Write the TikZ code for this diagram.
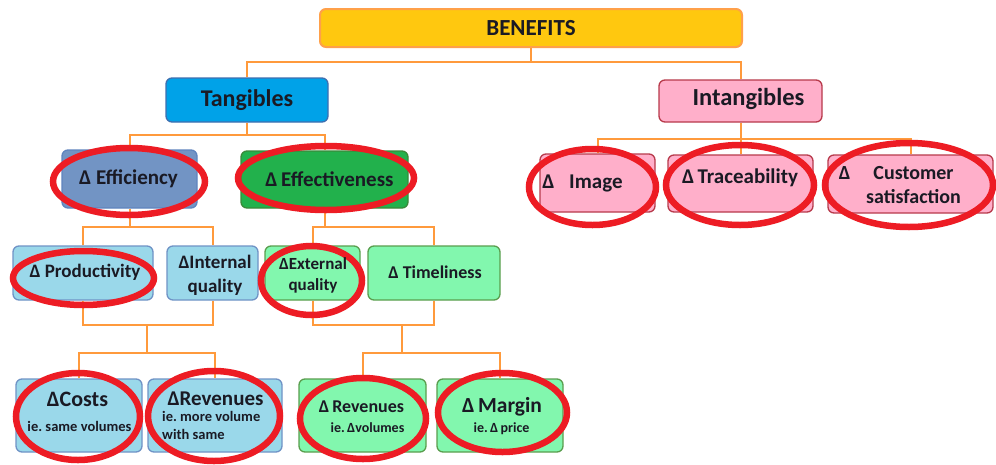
\documentclass[tikz,border=0pt]{standalone}
\usepackage{fontspec}
\setmainfont{Carlito}
\usetikzlibrary{shapes.geometric}
\frenchspacing

\definecolor{ink}{HTML}{1A1A24}
\definecolor{linkorange}{HTML}{FF9A3C}
\definecolor{goldfill}{HTML}{FFC80F}
\definecolor{goldedge}{HTML}{FFA04A}
\definecolor{tanfill}{HTML}{00A2E8}
\definecolor{tanedge}{HTML}{3E6FB0}
\definecolor{efffill}{HTML}{7294C4}
\definecolor{effedge}{HTML}{5F84BE}
\definecolor{evfill}{HTML}{22B14C}
\definecolor{evedge}{HTML}{3A8A3A}
\definecolor{lbfill}{HTML}{9AD8EA}
\definecolor{lbedge}{HTML}{6F93C6}
\definecolor{mintfill}{HTML}{82F7AE}
\definecolor{mintedge}{HTML}{5A9E4E}
\definecolor{pinkfill}{HTML}{FFAFCA}
\definecolor{pinkedge}{HTML}{B83A4B}
\definecolor{ringred}{HTML}{ED1C24}

\begin{document}
\begin{tikzpicture}[x=1pt,y=-1pt,
  sz/.style 2 args={minimum width=#1pt, minimum height=#2pt},
  box/.style={draw, rounded corners=6pt, line width=1.3pt, inner sep=0pt},
  goldbox/.style={box, fill=goldfill, draw=goldedge, line width=2pt},
  tanbox/.style={box, fill=tanfill, draw=tanedge},
  effbox/.style={box, fill=efffill, draw=effedge},
  evbox/.style={box, fill=evfill, draw=evedge},
  lbbox/.style={box, fill=lbfill, draw=lbedge},
  mintbox/.style={box, fill=mintfill, draw=mintedge},
  pinkbox/.style={box, fill=pinkfill, draw=pinkedge},
  conn/.style={draw=linkorange, line width=2pt},
  ring/.style={draw=ringred, line width=6.5pt, ellipse, inner sep=0pt},
  lbl/.style={font=\bfseries\fontsize{#1pt}{#1pt}\selectfont, text=ink, inner sep=0pt},
  lines/.style 2 args={font=\bfseries\fontsize{#1pt}{#2pt}\selectfont, text=ink, inner sep=0pt}
]
\useasboundingbox (0,0) rectangle (996,464);
\fill[white] (0,0) rectangle (996,464);

% ---- boxes ----
\node[goldbox, sz={422}{38}] (ben)  at (531,28)    {};
\node[tanbox,  sz={162}{44}] (tan)  at (247,100)   {};
\node[pinkbox, sz={163}{42}] (intg) at (740.5,101) {};

\node[effbox,  sz={135}{58}] (eff)  at (129.5,179) {};
\node[evbox,   sz={167}{57}] (effv) at (324.5,179.5) {};
\node[pinkbox, sz={115}{58}] (img)  at (597.5,183) {};
\node[pinkbox, sz={145}{57}] (trc)  at (740.5,183.5) {};
\node[pinkbox, sz={165}{58}] (cus)  at (910.5,184) {};

\node[lbbox,   sz={140}{54}] (prod) at (83,273)    {};
\node[lbbox,   sz={91}{54}]  (iq)   at (212.5,273) {};
\node[mintbox, sz={95}{54}]  (eq)   at (312.5,273) {};
\node[mintbox, sz={132}{54}] (tml)  at (434,273)   {};

\node[lbbox,   sz={126}{73}] (cst)  at (79,415.5)  {};
\node[lbbox,   sz={134}{73}] (rev)  at (215,415.5) {};
\node[mintbox, sz={127}{73}] (rev2) at (362.5,415.5) {};
\node[mintbox, sz={126}{73}] (mrg)  at (500,415.5) {};

% ---- junctions of the tree ----
\coordinate (j0) at (531,62);
\coordinate (j1) at (247,135);
\coordinate (j2) at (740.5,139);
\coordinate (j3) at (129.5,227);
\coordinate (j4) at (324.5,227);
\coordinate (j5) at (147,325);
\coordinate (j6) at (147,353);
\coordinate (j7) at (402,325);
\coordinate (j8) at (402,353);

% ---- connectors ----
\draw[conn] (ben.south) -- (j0);
\draw[conn] (tan.north) |- (j0) -| (intg.north);
\draw[conn] (tan.south) -- (j1);
\draw[conn] (eff.north) |- (j1) -| (effv.north);
\draw[conn] (intg.south) -- (j2) -- (trc.north);
\draw[conn] (img.north) |- (j2) -| (cus.north);
\draw[conn] (eff.south) -- (j3);
\draw[conn] (prod.north) |- (j3) -| (iq.north);
\draw[conn] (effv.south) -- (j4);
\draw[conn] (eq.north) |- (j4) -| (tml.north);
\draw[conn] (prod.south) |- (j5) -| (iq.south);
\draw[conn] (j5) -- (j6);
\draw[conn] (cst.north) |- (j6) -| (rev.north);
\draw[conn] (eq.south) |- (j7) -| (tml.south);
\draw[conn] (j7) -- (j8);
\draw[conn] (rev2.north) |- (j8) -| (mrg.north);

% ---- red highlight rings ----
\node[ring, sz={152}{67}] (r-eff)  at (129,181.5) {};
\node[ring, sz={176}{64}] (r-effv) at (326,178)   {};
\node[ring, sz={127}{76}] (r-img)  at (592.5,187) {};
\node[ring, sz={148}{80}] (r-trc)  at (740,185)   {};
\node[ring, sz={168}{84}] (r-cus)  at (909,185)   {};
\node[ring, sz={141}{54}] (r-prod) at (83.5,278)  {};
\node[ring, sz={101}{69}] (r-eq)   at (311.5,280.5) {};
\node[ring, sz={124}{87}] (r-cst)  at (78,416.5)  {};
\node[ring, sz={132}{90}] (r-rev)  at (214,416)   {};
\node[ring, sz={126}{81}] (r-rev2) at (363,418.5) {};
\node[ring, sz={129}{79}] (r-mrg)  at (502.5,412.5) {};

% ---- labels ----
\node[lbl=23] (t-ben)  at (531,28)    {BENEFITS};
\node[lbl=24] (t-tan)  at (247,100)   {Tangibles};
\node[lbl=24.5] (t-intg) at (748.5,99) {Intangibles};

\node[lbl=21] (t-eff)  at (128.5,179) {Δ Efficiency};
\node[lbl=21] (t-effv) at (329.5,179) {Δ\,Effectiveness};
\node[lbl=21] (t-img)  at (582.5,183) {Δ\hspace{0.7em}Image};
\node[lbl=21] (t-trc)  at (740,178)   {Δ\,Traceability};
\node[lines={20}{24}, align=center] (t-cus) at (913.5,185)
  {\llap{Δ\hspace{23pt}}Customer\\satisfaction};

\node[lbl=19] (t-prod) at (85,272)    {Δ Productivity};
\node[lines={19}{24}, align=center] (t-iq) at (215,275) {ΔInternal\\quality};
\node[lines={17}{21}, align=center] (t-eq) at (313,275.5) {ΔExternal\\quality};
\node[lbl=18] (t-tml)  at (435,272)   {Δ Timeliness};

\node[lbl=22]   (t-cst)  at (77.5,399) {ΔCosts};
\node[lbl=14.5] (t-cst2) at (79.5,426) {ie. same volumes};
\node[lbl=21]   (t-rev)  at (215.5,399) {ΔRevenues};
\node[lines={14.5}{18}, align=left, anchor=north west] (t-rev2) at (162,411)
  {ie. more volume\\with same};
\node[lbl=18]   (t-rv)   at (361.5,407) {Δ\,Revenues};
\node[lbl=14]   (t-rv2)  at (367.5,428) {ie.\,Δvolumes};
\node[lbl=21.5] (t-mrg)  at (502,407)   {Δ\,Margin};
\node[lbl=14]   (t-mrg2) at (501.5,429) {ie.\,Δ\,price};
\end{tikzpicture}
\end{document}
